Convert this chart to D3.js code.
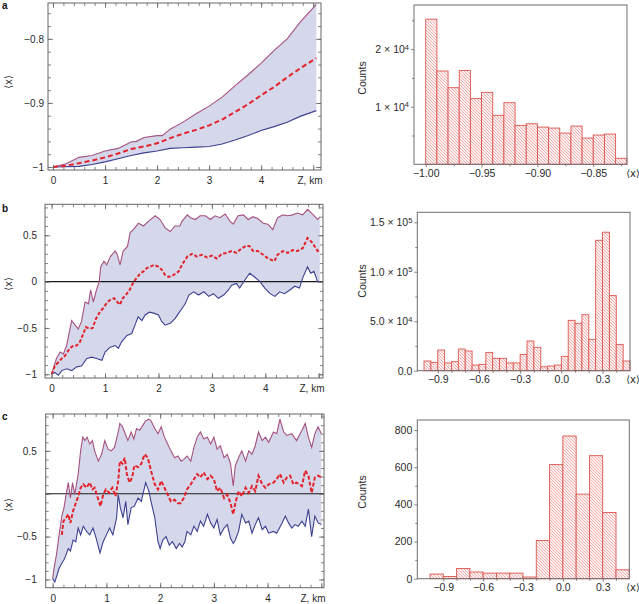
<!DOCTYPE html>
<html><head><meta charset="utf-8">
<script src="https://cdn.jsdelivr.net/npm/d3@7"></script>
<style>
body{margin:0;background:#fff;}
svg{display:block;font-family:"Liberation Sans",Arial,Helvetica,sans-serif;}
</style></head><body>
<svg id="chart" width="639" height="604"></svg>
<script>
// ---------------- DATA ----------------
// Panel a (left): [Z km, <x>]
const aUpper = [[0,-1],[0.25,-0.995],[0.5,-0.985],[0.75,-0.982],[1,-0.975],[1.25,-0.971],[1.5,-0.961],[1.6,-0.96],[1.75,-0.954],[2,-0.951],[2.1,-0.951],[2.25,-0.941],[2.5,-0.93],[2.75,-0.917],[3,-0.905],[3.25,-0.891],[3.5,-0.873],[3.75,-0.856],[4,-0.838],[4.25,-0.818],[4.5,-0.8],[4.75,-0.774],[5.06,-0.746]];
const aMean = [[0,-1],[0.25,-0.998],[0.5,-0.994],[0.75,-0.99],[1,-0.985],[1.25,-0.979],[1.5,-0.972],[1.75,-0.968],[2,-0.963],[2.25,-0.955],[2.5,-0.948],[2.75,-0.942],[3,-0.935],[3.25,-0.926],[3.5,-0.914],[3.75,-0.902],[4,-0.888],[4.25,-0.875],[4.5,-0.86],[4.75,-0.846],[5.06,-0.83]];
const aLower = [[0,-1],[0.5,-0.999],[0.75,-0.996],[1,-0.992],[1.25,-0.987],[1.5,-0.982],[1.75,-0.978],[2,-0.975],[2.25,-0.971],[2.5,-0.97],[2.75,-0.969],[3,-0.968],[3.25,-0.964],[3.5,-0.958],[3.75,-0.951],[4,-0.943],[4.25,-0.937],[4.5,-0.93],[4.75,-0.921],[5.06,-0.912]];

// Panel b (left)
const bUpper = [[0,-1],[0.09,-0.83],[0.16,-0.76],[0.22,-0.78],[0.28,-0.69],[0.375,-0.42],[0.44,-0.47],[0.5,-0.51],[0.56,-0.43],[0.625,-0.22],[0.69,-0.24],[0.73,-0.09],[0.78,-0.22],[0.84,-0.09],[0.89,0.0],[0.92,0.16],[0.98,0.22],[1.03,0.18],[1.1,0.27],[1.19,0.33],[1.23,0.29],[1.28,0.18],[1.34,0.33],[1.42,0.38],[1.47,0.53],[1.53,0.56],[1.625,0.63],[1.72,0.6],[1.81,0.65],[1.94,0.71],[2.03,0.67],[2.125,0.58],[2.22,0.54],[2.31,0.6],[2.4,0.6],[2.44,0.65],[2.54,0.72],[2.6,0.69],[2.69,0.67],[2.78,0.71],[2.88,0.71],[2.97,0.67],[3.06,0.71],[3.15,0.69],[3.25,0.73],[3.34,0.65],[3.4,0.62],[3.49,0.71],[3.59,0.72],[3.68,0.67],[3.77,0.7],[3.86,0.68],[3.96,0.63],[4.05,0.62],[4.14,0.56],[4.23,0.69],[4.33,0.72],[4.42,0.71],[4.51,0.72],[4.6,0.74],[4.7,0.72],[4.79,0.78],[4.88,0.73],[4.98,0.67],[5.02,0.7]];
const bMean = [[0,-1],[0.06,-0.91],[0.125,-0.87],[0.19,-0.83],[0.25,-0.8],[0.34,-0.72],[0.41,-0.69],[0.47,-0.69],[0.53,-0.65],[0.58,-0.58],[0.64,-0.49],[0.71,-0.51],[0.77,-0.5],[0.83,-0.4],[0.89,-0.34],[0.96,-0.29],[1.02,-0.24],[1.09,-0.2],[1.17,-0.18],[1.23,-0.22],[1.28,-0.25],[1.33,-0.18],[1.39,-0.145],[1.46,-0.09],[1.52,-0.02],[1.59,0.04],[1.66,0.09],[1.72,0.11],[1.78,0.145],[1.84,0.16],[1.92,0.18],[2.0,0.16],[2.06,0.13],[2.125,0.07],[2.19,0.05],[2.28,0.07],[2.38,0.11],[2.44,0.18],[2.54,0.27],[2.63,0.3],[2.72,0.27],[2.81,0.29],[2.91,0.26],[3.0,0.28],[3.09,0.25],[3.19,0.3],[3.28,0.31],[3.37,0.33],[3.46,0.31],[3.56,0.36],[3.65,0.39],[3.71,0.38],[3.77,0.33],[3.86,0.33],[3.96,0.29],[4.05,0.25],[4.17,0.22],[4.23,0.29],[4.33,0.33],[4.42,0.31],[4.51,0.34],[4.6,0.33],[4.7,0.36],[4.79,0.47],[4.88,0.42],[4.98,0.33],[5.02,0.34]];
const bLower = [[0,-1],[0.06,-0.98],[0.125,-1.01],[0.19,-0.96],[0.28,-0.94],[0.375,-0.96],[0.47,-0.92],[0.56,-0.91],[0.66,-0.83],[0.75,-0.815],[0.84,-0.83],[0.94,-0.85],[1.0,-0.76],[1.09,-0.71],[1.19,-0.69],[1.25,-0.72],[1.31,-0.65],[1.41,-0.58],[1.5,-0.56],[1.56,-0.47],[1.62,-0.38],[1.69,-0.42],[1.75,-0.36],[1.83,-0.33],[1.91,-0.34],[2.0,-0.36],[2.06,-0.43],[2.125,-0.47],[2.22,-0.45],[2.31,-0.4],[2.38,-0.34],[2.44,-0.29],[2.5,-0.24],[2.57,-0.145],[2.66,-0.11],[2.75,-0.145],[2.85,-0.11],[2.94,-0.16],[3.03,-0.13],[3.12,-0.18],[3.22,-0.145],[3.31,-0.09],[3.37,-0.04],[3.46,-0.02],[3.52,-0.07],[3.62,0.02],[3.71,0.09],[3.8,0.05],[3.9,0.0],[3.99,-0.07],[4.09,-0.13],[4.18,-0.16],[4.27,-0.11],[4.36,-0.13],[4.46,-0.09],[4.55,-0.05],[4.64,-0.07],[4.7,0.04],[4.79,0.16],[4.85,0.09],[4.91,0.11],[4.98,0.0],[5.02,0.0]];

// Panel c (left)
const cUpper = [[0,-0.99],[0.025,-0.87],[0.07,-0.71],[0.12,-0.48],[0.17,-0.26],[0.21,-0.165],[0.25,-0.01],[0.29,0.13],[0.33,-0.05],[0.37,0.13],[0.41,-0.01],[0.475,0.23],[0.52,0.5],[0.56,0.66],[0.6,0.62],[0.64,0.66],[0.69,0.58],[0.74,0.62],[0.78,0.5],[0.85,0.38],[0.91,0.46],[0.97,0.62],[1.03,0.52],[1.09,0.5],[1.15,0.54],[1.22,0.72],[1.25,0.82],[1.3,0.78],[1.35,0.7],[1.4,0.62],[1.46,0.72],[1.51,0.64],[1.56,0.76],[1.62,0.74],[1.68,0.8],[1.73,0.85],[1.79,0.87],[1.83,0.85],[1.9,0.76],[1.96,0.7],[2.02,0.78],[2.08,0.66],[2.14,0.58],[2.2,0.5],[2.27,0.42],[2.33,0.44],[2.39,0.38],[2.44,0.4],[2.5,0.44],[2.57,0.38],[2.63,0.54],[2.69,0.66],[2.75,0.72],[2.81,0.64],[2.88,0.66],[2.94,0.58],[3.0,0.66],[3.06,0.52],[3.12,0.56],[3.19,0.42],[3.25,0.46],[3.31,0.35],[3.36,0.09],[3.4,0.33],[3.46,0.42],[3.52,0.5],[3.59,0.38],[3.65,0.5],[3.71,0.46],[3.77,0.56],[3.83,0.72],[3.9,0.62],[3.96,0.66],[4.02,0.6],[4.11,0.72],[4.17,0.7],[4.23,0.87],[4.3,0.72],[4.36,0.68],[4.45,0.7],[4.54,0.62],[4.64,0.74],[4.7,0.82],[4.76,0.66],[4.82,0.54],[4.88,0.7],[4.94,0.78],[5.0,0.7]];
const cMean = [[0.17,-0.48],[0.2,-0.32],[0.25,-0.28],[0.29,-0.24],[0.33,-0.34],[0.38,-0.2],[0.43,-0.11],[0.475,-0.03],[0.52,0.07],[0.57,0.11],[0.63,0.07],[0.69,0.13],[0.74,0.05],[0.78,0.07],[0.85,-0.07],[0.89,-0.145],[0.94,-0.01],[0.99,0.05],[1.05,0.01],[1.11,0.07],[1.17,-0.03],[1.22,0.15],[1.25,0.38],[1.3,0.35],[1.34,0.42],[1.38,0.23],[1.43,0.13],[1.48,0.19],[1.52,0.33],[1.59,0.31],[1.65,0.35],[1.71,0.46],[1.77,0.42],[1.83,0.27],[1.9,0.11],[1.96,0.05],[2.02,0.15],[2.08,0.07],[2.14,-0.01],[2.2,-0.09],[2.27,-0.07],[2.33,-0.11],[2.38,-0.11],[2.44,-0.05],[2.5,0.05],[2.57,0.11],[2.63,0.17],[2.69,0.23],[2.75,0.19],[2.81,0.25],[2.88,0.17],[2.94,0.21],[3.0,0.17],[3.06,0.03],[3.12,0.07],[3.19,-0.05],[3.25,-0.01],[3.31,-0.11],[3.36,-0.24],[3.4,-0.11],[3.46,0.03],[3.52,-0.03],[3.59,0.07],[3.65,0.01],[3.71,0.09],[3.77,0.03],[3.83,0.21],[3.9,0.11],[3.96,0.07],[4.02,0.11],[4.11,0.13],[4.17,0.17],[4.23,0.23],[4.3,0.13],[4.36,0.19],[4.42,0.21],[4.48,0.11],[4.54,0.13],[4.64,0.09],[4.7,0.27],[4.76,0.21],[4.82,0.01],[4.88,0.19],[4.94,0.21],[5.0,0.19]];
const cLower = [[0,-0.99],[0.04,-1.03],[0.09,-0.93],[0.12,-0.87],[0.17,-0.81],[0.21,-0.77],[0.25,-0.71],[0.29,-0.64],[0.33,-0.67],[0.38,-0.54],[0.43,-0.56],[0.475,-0.4],[0.52,-0.48],[0.57,-0.38],[0.63,-0.44],[0.69,-0.48],[0.75,-0.4],[0.81,-0.52],[0.88,-0.69],[0.94,-0.56],[1.0,-0.48],[1.06,-0.4],[1.12,-0.48],[1.19,-0.28],[1.22,-0.01],[1.26,-0.165],[1.31,-0.28],[1.36,-0.09],[1.4,-0.36],[1.46,-0.165],[1.52,-0.145],[1.59,-0.05],[1.65,-0.09],[1.73,0.13],[1.79,0.03],[1.83,-0.09],[1.9,-0.28],[1.96,-0.56],[2.0,-0.64],[2.05,-0.54],[2.11,-0.5],[2.17,-0.6],[2.23,-0.56],[2.3,-0.64],[2.36,-0.58],[2.41,-0.62],[2.46,-0.56],[2.5,-0.44],[2.57,-0.48],[2.63,-0.38],[2.69,-0.44],[2.75,-0.32],[2.81,-0.38],[2.88,-0.24],[2.94,-0.34],[3.0,-0.4],[3.06,-0.3],[3.12,-0.48],[3.19,-0.4],[3.25,-0.36],[3.31,-0.52],[3.36,-0.58],[3.4,-0.54],[3.46,-0.44],[3.52,-0.24],[3.59,-0.34],[3.65,-0.32],[3.71,-0.46],[3.77,-0.36],[3.83,-0.28],[3.9,-0.42],[3.96,-0.38],[4.02,-0.46],[4.11,-0.44],[4.17,-0.46],[4.27,-0.34],[4.33,-0.26],[4.39,-0.34],[4.45,-0.4],[4.51,-0.36],[4.57,-0.38],[4.64,-0.32],[4.7,-0.38],[4.76,-0.18],[4.82,-0.5],[4.88,-0.26],[4.94,-0.34],[5.0,-0.36]];

// Line-panel tick labels
const zTicks = [0, 1, 2, 3, 4, 5];
const zTickLabels = ["0", "1", "2", "3", "4", "Z, km"];
const aYTicks = [-1, -0.9, -0.8];
const aYLabels = ["\u22121", "\u22120.9", "\u22120.8"];
const bYTicks = [-1, -0.5, 0, 0.5];
const bYLabels = ["\u22121", "\u22120.5", "0", "0.5"];
const cYTicks = [-1, -0.5, 0, 0.5];
const cYLabels = ["\u22121", "\u22120.5", "", "0.5"];

// Histograms: bin edges and counts
const histAEdges = [-1.00,-0.99,-0.98,-0.97,-0.96,-0.95,-0.94,-0.93,-0.92,-0.91,-0.90,-0.89,-0.88,-0.87,-0.86,-0.85,-0.84,-0.83,-0.82];
const histACounts = [25200,16200,13300,16300,11400,12500,8500,10700,6760,7040,6460,6290,5420,6640,4560,5080,5250,1040];
const histBEdges = [-1.00,-0.95,-0.90,-0.85,-0.80,-0.75,-0.70,-0.65,-0.60,-0.55,-0.50,-0.45,-0.40,-0.35,-0.30,-0.25,-0.20,-0.15,-0.10,-0.05,0.00,0.05,0.10,0.15,0.20,0.25,0.30,0.35,0.40,0.45,0.50];
const histBCounts = [9800,8400,20900,7800,9100,21900,19900,5700,6400,18500,12500,12500,7800,7800,16500,30000,23600,4000,4700,5700,14500,50900,47900,56600,31700,131800,140000,75900,26600,9800];
const histCEdges = [-1.0,-0.9,-0.8,-0.7,-0.6,-0.5,-0.4,-0.3,-0.2,-0.1,0.0,0.1,0.2,0.3,0.4,0.5];
const histCCounts = [25,12,55,36,30,30,30,9,206,614,768,455,662,356,48];

const histAXTicks = [-1.00, -0.95, -0.90, -0.85];
const histAXLabels = ["\u22121.00", "\u22120.95", "\u22120.90", "\u22120.85"];
const histBCXTicks = [-0.9, -0.6, -0.3, 0.0, 0.3];
const histBCXLabels = ["\u22120.9", "\u22120.6", "\u22120.3", "0.0", "0.3"];
const histAYTicks = [10000, 20000];
const histAYMant = ["1 \u00d7 10", "2 \u00d7 10"];
const histAYExp = ["4", "4"];
const histBYTicks = [0, 50000, 100000, 150000];
const histBYMant = ["0.0", "5.0 \u00d7 10", "1.0 \u00d7 10", "1.5 \u00d7 10"];
const histBYExp = ["", "4", "5", "5"];
const histCYTicks = [0, 200, 400, 600, 800];
const histCYMant = ["0", "200", "400", "600", "800"];
const histCYExp = ["", "", "", "", ""];

// ---------------- DRAWING ----------------
const svg = d3.select("#chart");
const defs = svg.append("defs");
const pat = defs.append("pattern").attr("id", "hatch").attr("patternUnits", "userSpaceOnUse")
  .attr("width", 3).attr("height", 3);
pat.append("rect").attr("width", 3).attr("height", 3).attr("fill", "#fdf2f1");
pat.append("path").attr("d", "M-0.75,-0.75 L3.75,3.75 M-0.75,2.25 L0.75,3.75 M2.25,-0.75 L3.75,0.75")
  .attr("stroke", "#ec9d9a").attr("stroke-width", 0.8);

const TXT = "#2a2a2a", AX = "#666";

function styleAxis(g, fs) {
  g.select(".domain").remove();
  g.selectAll(".tick line").attr("stroke", AX).attr("stroke-width", 0.8);
  g.selectAll(".tick text").attr("fill", TXT).attr("font-size", fs)
    .attr("font-family", "'Liberation Sans', Arial, sans-serif");
  g.attr("font-family", null).attr("font-size", null);
}

function linePanel(p) {
  const g = svg.append("g");
  const x = d3.scaleLinear().domain(p.xDomain).range([p.left, p.right]);
  const y = d3.scaleLinear().domain(p.yDomain).range([p.bottom, p.top]);
  const line = d3.line().x(d => x(d[0])).y(d => y(d[1]));
  const clipId = "clip" + p.letter;
  defs.append("clipPath").attr("id", clipId).append("rect")
    .attr("x", p.left).attr("y", p.top).attr("width", p.right - p.left).attr("height", p.bottom - p.top);
  const body = g.append("g").attr("clip-path", `url(#${clipId})`);
  body.append("path").attr("d", line(p.upper.concat(p.lower.slice().reverse())) + "Z")
    .attr("fill", "#d5d7ea").attr("stroke", "none");
  if (p.zero) body.append("line").attr("x1", p.left).attr("x2", p.right)
    .attr("y1", y(0)).attr("y2", y(0)).attr("stroke", "#1a1a1a").attr("stroke-width", 1.1);
  body.append("path").attr("d", line(p.upper)).attr("fill", "none").attr("stroke", "#a5527f").attr("stroke-width", 1.1);
  body.append("path").attr("d", line(p.lower)).attr("fill", "none").attr("stroke", "#3c418f").attr("stroke-width", 1.1);
  body.append("path").attr("d", line(p.mean)).attr("fill", "none").attr("stroke", "#e3232b")
    .attr("stroke-width", 2).attr("stroke-dasharray", p.dash);

  g.append("rect").attr("x", p.left).attr("y", p.top).attr("width", p.right - p.left).attr("height", p.bottom - p.top)
    .attr("fill", "none").attr("stroke", AX).attr("stroke-width", 1);

  const xMinor = d3.range(0, 5.01, 0.2).filter(v => v > p.xDomain[0] && v < p.xDomain[1]);
  const yMinor = d3.range(-1.2, 1.2, p.yMinor).map(v => Math.round(v * 1000) / 1000)
    .filter(v => v > p.yDomain[0] && v < p.yDomain[1]);
  const fs = 10;
  // bottom
  const gb = g.append("g").attr("transform", `translate(0,${p.bottom})`)
    .call(d3.axisBottom(x).tickValues(zTicks).tickSize(-5).tickPadding(7).tickFormat((d, i) => zTickLabels[i]));
  styleAxis(gb, fs);
  gb.selectAll(".tick text").filter(d => d === 5).attr("text-anchor", "end").attr("x", p.right - x(5) + 1);
  g.append("g").attr("transform", `translate(0,${p.bottom})`)
    .call(d3.axisBottom(x).tickValues(xMinor).tickSize(-3).tickFormat("")).call(s => styleAxis(s, fs));
  g.append("g").attr("transform", `translate(0,${p.top})`)
    .call(d3.axisTop(x).tickValues(zTicks).tickSize(-5).tickFormat("")).call(s => styleAxis(s, fs));
  g.append("g").attr("transform", `translate(0,${p.top})`)
    .call(d3.axisTop(x).tickValues(xMinor).tickSize(-3).tickFormat("")).call(s => styleAxis(s, fs));
  // left
  const gl = g.append("g").attr("transform", `translate(${p.left},0)`)
    .call(d3.axisLeft(y).tickValues(p.yTicks).tickSize(-5).tickPadding(p.yPad).tickFormat((d, i) => p.yLabels[i]));
  styleAxis(gl, fs);
  g.append("g").attr("transform", `translate(${p.left},0)`)
    .call(d3.axisLeft(y).tickValues(yMinor).tickSize(-3).tickFormat("")).call(s => styleAxis(s, fs));
  g.append("g").attr("transform", `translate(${p.right},0)`)
    .call(d3.axisRight(y).tickValues(p.yTicks).tickSize(-5).tickFormat("")).call(s => styleAxis(s, fs));
  g.append("g").attr("transform", `translate(${p.right},0)`)
    .call(d3.axisRight(y).tickValues(yMinor).tickSize(-3).tickFormat("")).call(s => styleAxis(s, fs));

  g.append("text").attr("transform", `translate(${p.ylabX},${p.ylabY}) rotate(-90)`)
    .attr("text-anchor", "middle").attr("dy", "0.35em").attr("font-size", 10).attr("fill", TXT)
    .attr("font-family", "'DejaVu Sans', sans-serif").text("\u27e8x\u27e9");
  g.append("text").attr("x", 2).attr("y", p.letterY).attr("font-size", 10).attr("font-weight", "bold")
    .attr("fill", "#111").text(p.letter);
}

function histPanel(p) {
  const g = svg.append("g");
  const x = d3.scaleLinear().domain(p.xDomain).range([p.left, p.right]);
  const y = d3.scaleLinear().domain(p.yDomain).range([p.bottom, p.top]);
  const bins = p.counts.map((c, i) => ({ x0: p.edges[i], x1: p.edges[i + 1], c }));
  g.selectAll("rect.bar").data(bins).join("rect").attr("class", "bar")
    .attr("x", d => x(d.x0)).attr("width", d => x(d.x1) - x(d.x0))
    .attr("y", d => y(d.c)).attr("height", d => y(0) - y(d.c))
    .attr("fill", "url(#hatch)").attr("stroke", "#dc5650").attr("stroke-width", 0.9);
  g.append("rect").attr("x", p.left).attr("y", p.top).attr("width", p.right - p.left).attr("height", p.bottom - p.top)
    .attr("fill", "none").attr("stroke", "#6e6e6e").attr("stroke-width", 1);
  const fs = 10.5;
  const gb = g.append("g").attr("transform", `translate(0,${p.bottom})`)
    .call(d3.axisBottom(x).tickValues(p.xTicks).tickSize(3).tickPadding(2).tickFormat((d, i) => p.xLabels[i]));
  styleAxis(gb, fs);
  g.append("g").attr("transform", `translate(0,${p.bottom})`)
    .call(d3.axisBottom(x).tickValues(p.xMinor).tickSize(2).tickFormat("")).call(s => styleAxis(s, fs));
  const gl = g.append("g").attr("transform", `translate(${p.left},0)`)
    .call(d3.axisLeft(y).tickValues(p.yTicks).tickSize(3).tickPadding(2).tickFormat(""));
  styleAxis(gl, fs);
  gl.selectAll(".tick text").each(function (d, i) {
    const t = d3.select(this);
    t.append("tspan").text(p.yMant[i]);
    if (p.yExp[i]) t.append("tspan").attr("dy", "-0.45em").attr("font-size", 7.5).text(p.yExp[i]);
  });
  g.append("g").attr("transform", `translate(${p.left},0)`)
    .call(d3.axisLeft(y).tickValues(p.yMinor).tickSize(2).tickFormat("")).call(s => styleAxis(s, fs));
  g.append("text").attr("x", 633).attr("y", p.bottom + 9).attr("dy", "0.35em").attr("text-anchor", "middle")
    .attr("font-size", 10).attr("fill", TXT).attr("font-family", "'DejaVu Sans', sans-serif").text("\u27e8x\u27e9");
  g.append("text").attr("transform", `translate(362,${p.countsY}) rotate(-90)`).attr("text-anchor", "middle")
    .attr("dy", "0.35em").attr("font-size", 10.5).attr("fill", TXT).text("Counts");
}

linePanel({ letter: "a", letterY: 9, left: 48, right: 321, top: 3, bottom: 170,
  xDomain: [-0.096, 5.15], yDomain: [-1.0047, -0.744], upper: aUpper, mean: aMean, lower: aLower,
  yTicks: aYTicks, yLabels: aYLabels, yMinor: 0.02, yPad: 4, zero: false, dash: "5,3",
  ylabX: 8, ylabY: 82 });
linePanel({ letter: "b", letterY: 212, left: 45, right: 323, top: 204.3, bottom: 378,
  xDomain: [-0.124, 5.08], yDomain: [-1.04, 0.834], upper: bUpper, mean: bMean, lower: bLower,
  yTicks: bYTicks, yLabels: bYLabels, yMinor: 0.1, yPad: 8, zero: true, dash: "3.5,2",
  ylabX: 8, ylabY: 284 });
linePanel({ letter: "c", letterY: 420, left: 45.7, right: 324, top: 414, bottom: 587.7,
  xDomain: [-0.13, 5.05], yDomain: [-1.096, 0.93], upper: cUpper, mean: cMean, lower: cLower,
  yTicks: cYTicks, yLabels: cYLabels, yMinor: 0.1, yPad: 9, zero: true, dash: "4,2",
  ylabX: 8, ylabY: 505 });

histPanel({ left: 414, right: 627, top: 5, bottom: 164.3, xDomain: [-1.0105, -0.8198], yDomain: [0, 27660],
  edges: histAEdges, counts: histACounts, xTicks: histAXTicks, xLabels: histAXLabels,
  xMinor: [-0.975, -0.925, -0.875, -0.825], yTicks: histAYTicks, yMant: histAYMant, yExp: histAYExp,
  yMinor: [5000, 15000, 25000], countsY: 78 });
histPanel({ left: 417.3, right: 630, top: 212.3, bottom: 370.7, xDomain: [-1.049, 0.5], yDomain: [0, 160100],
  edges: histBEdges, counts: histBCounts, xTicks: histBCXTicks, xLabels: histBCXLabels,
  xMinor: [-0.8, -0.7, -0.5, -0.4, -0.2, -0.1, 0.1, 0.2, 0.4], yTicks: histBYTicks, yMant: histBYMant, yExp: histBYExp,
  yMinor: [25000, 75000, 125000], countsY: 281 });
histPanel({ left: 417.3, right: 629.3, top: 420, bottom: 578.7, xDomain: [-1.0956, 0.5], yDomain: [0, 854],
  edges: histCEdges, counts: histCCounts, xTicks: histBCXTicks, xLabels: histBCXLabels,
  xMinor: [-0.8, -0.7, -0.5, -0.4, -0.2, -0.1, 0.1, 0.2, 0.4], yTicks: histCYTicks, yMant: histCYMant, yExp: histCYExp,
  yMinor: [100, 300, 500, 700], countsY: 492 });
</script></body></html>
